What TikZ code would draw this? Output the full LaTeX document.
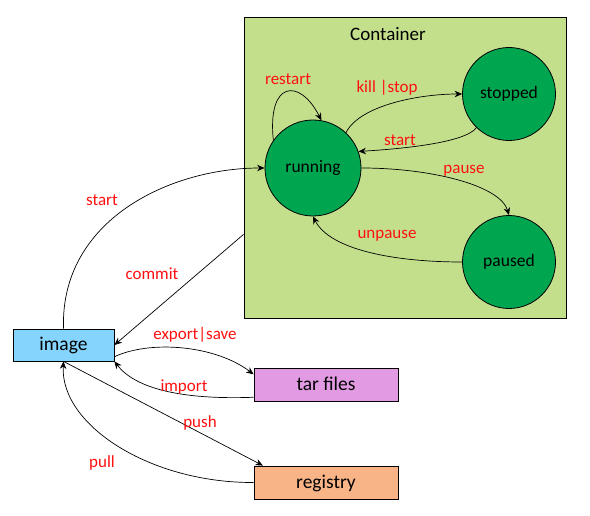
\documentclass[tikz,border=0pt]{standalone}
\usepackage{fontspec}
\setmainfont{Carlito}
\usetikzlibrary{arrows.meta,calc}
\definecolor{contgreen}{HTML}{C4DF8C}
\definecolor{stategreen}{HTML}{00A550}
\definecolor{imgblue}{HTML}{85D4FD}
\definecolor{tarpink}{HTML}{E29AE2}
\definecolor{regorange}{HTML}{F8B486}
\definecolor{lblred}{HTML}{FF1010}
\begin{document}
\begin{tikzpicture}[x=1pt,y=-1pt,
  statenode/.style={circle,draw=black,line width=0.8pt,fill=stategreen,minimum size=96pt,inner sep=0pt,text height=12pt,text depth=2pt,font=\fontsize{17.5}{20}\selectfont},
  boxnode/.style={rectangle,draw=black,line width=0.8pt,minimum height=32pt,inner sep=0pt,text height=13pt,text depth=2pt,font=\fontsize{19.5}{22}\selectfont},
  lbl/.style={text=lblred,font=\fontsize{17}{20}\selectfont,inner sep=0pt,text height=11.5pt,text depth=2.5pt},
  conn/.style={draw=black,line width=0.7pt,-{Stealth[length=7.5pt,width=6.5pt]}}]
\useasboundingbox (0,0) rectangle (590,516);
\fill[white] (0,0) rectangle (590,516);
% container
\node[draw=black,line width=0.9pt,fill=contgreen,minimum width=322pt,minimum height=301pt,inner sep=0pt] (container) at (405,168) {};
\node[font=\fontsize{19}{22}\selectfont,inner sep=0pt] (ctitle) at (388,34) {Container};
% states
\node[statenode] (running) at (313,168) {running};
\node[statenode,minimum size=93pt] (stopped) at (509,94) {stopped};
\node[statenode,minimum size=93pt] (paused) at (509,262) {paused};
% boxes
\node[boxnode,fill=imgblue,minimum width=101pt] (image) at (63.5,345) {image};
\node[boxnode,fill=tarpink,minimum width=144pt,minimum height=33pt] (tar) at (326,384.5) {tar files};
\node[boxnode,fill=regorange,minimum width=144pt,minimum height=33pt] (registry) at (326,482.5) {registry};
% container edges
\draw[conn] (running.145) .. controls (267,80) and (300,78) .. (running.80);
\draw[conn] (running.47) .. controls (360,105) and (420,94) .. (stopped.west);
\draw[conn] (stopped.226) .. controls (465,143) and (400,149) .. (running.20);
\draw[conn] (running.east) .. controls (430,168) and (500,185) .. (paused.north);
\draw[conn] (paused.west) .. controls (395,262) and (330,250) .. (running.south);
% outer edges
\draw[conn] (image.north) .. controls (60,220) and (170,168) .. (running.west);
\coordinate (commitstart) at ($(container.north west)!0.72!(container.south west)$);
\draw[conn] (commitstart) -- (image.east);
\draw[conn] (image.-13) .. controls (150,340) and (215,345) .. (tar.172);
\draw[conn] (tar.190) .. controls (180,400) and (135,388) .. (image.south east);
\draw[conn] (image.south) -- (registry.165);
\draw[conn] (registry.west) .. controls (150,483) and (60,425) .. (image.south);
% labels
\node[lbl] (lrestart) at (288,80) {restart};
\node[lbl] (lkill) at (387,88) {kill |stop};
\node[lbl] (lstart1) at (400,141) {start};
\node[lbl] (lpause) at (464,169) {pause};
\node[lbl] (lunpause) at (387,234) {unpause};
\node[lbl] (lstart2) at (102,201) {start};
\node[lbl] (lcommit) at (152,275) {commit};
\node[lbl] (lexport) at (195,335) {export|save};
\node[lbl] (limport) at (184,387) {import};
\node[lbl] (lpush) at (200,423) {push};
\node[lbl] (lpull) at (102,463) {pull};
\end{tikzpicture}
\end{document}
